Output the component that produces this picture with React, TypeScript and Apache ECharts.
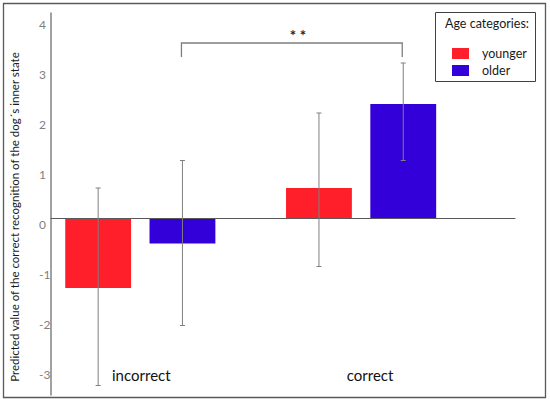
import React, { useEffect, useRef } from 'react';
import * as echarts from 'echarts';

const categories = ['incorrect', 'correct'];
const seriesNames = ['younger', 'older'];
const seriesColors = ['#FF1F2A', '#3300DA'];
const youngerValues = [-1.4, 0.6];
const olderValues = [-0.51, 2.28];
const youngerErrLow = [-3.35, -0.97];
const youngerErrHigh = [0.6, 2.1];
const olderErrLow = [-2.15, 1.15];
const olderErrHigh = [1.15, 3.1];
const yTickValues = [-3, -2, -1, 0, 1, 2, 3, 4];
const yAxisTitle = 'Predicted value of the correct recognition of the dog´s inner state';
const legendTitle = 'Age categories:';
// significance bracket: [fromCategory, toCategory, bracketY, dropY]
const sigBracket = [0, 1, 3.5, 3.22];
const sigLabel = '* *';

const FONT = 'Lato';
const Y_MIN = -3.54;
const Y_MAX = 4.1;
const BAR_CAT_GAP = 0.32;
const BAR_GAP = 0.28;

export default function App() {
  const ref = useRef<HTMLDivElement>(null);
  useEffect(() => {
    if (!ref.current) return;
    const chart = echarts.init(ref.current, undefined, { renderer: 'svg' });

    const barOffset = (api: any, si: number) => {
      const band = api.size([1, 0])[0];
      const bw = (band * (1 - BAR_CAT_GAP)) / (2 + BAR_GAP);
      return (si === 0 ? -1 : 1) * (bw * (1 + BAR_GAP)) / 2;
    };

    const errData: number[][] = [];
    categories.forEach((_, i) => {
      errData.push([i, youngerErrLow[i], youngerErrHigh[i], 0]);
      errData.push([i, olderErrLow[i], olderErrHigh[i], 1]);
    });

    const option: any = {
      animation: false,
      textStyle: { fontFamily: FONT },
      grid: [
        { left: 47, right: 35, top: 13, bottom: 12 },
        { left: 29.9, right: 78.5, top: 13, bottom: 12 },
      ],
      xAxis: [
        {
          gridIndex: 0,
          type: 'category',
          data: [''],
          axisLine: { onZero: true, lineStyle: { color: '#595959', width: 1.2 } },
          axisTick: { show: false },
          axisLabel: { show: false },
          z: 5,
        },
        {
          gridIndex: 1,
          type: 'category',
          data: categories,
          position: 'bottom',
          axisLine: { show: false, onZero: false },
          axisTick: { show: false },
          axisLabel: {
            margin: -28,
            fontSize: 15,
            color: '#111',
            fontFamily: FONT,
            formatter: (v: string) => (v === 'correct' ? '{b|' + v + '}' : '{a|' + v + '}'),
            rich: {
              a: { fontSize: 15, color: '#111', fontFamily: FONT, padding: [0, 0, 0, 2] },
              b: { fontSize: 15, color: '#111', fontFamily: FONT, padding: [0, 0, 0, 18] },
            },
          },
        },
      ],
      yAxis: [
        {
          gridIndex: 0,
          type: 'value',
          min: Y_MIN,
          max: Y_MAX,
          axisLine: { show: true, lineStyle: { color: '#8a8a8a', width: 1.6 } },
          axisTick: { show: false },
          splitLine: { show: false },
          axisLabel: {
            customValues: yTickValues,
            align: 'left',
            verticalAlign: 'top',
            margin: 12,
            fontSize: 12,
            color: '#7f7f7f',
            fontFamily: FONT,
          },
          name: yAxisTitle,
          nameLocation: 'middle',
          nameRotate: 90,
          nameGap: 31,
          nameTextStyle: { fontSize: 11.5, color: '#1a1a1a', fontFamily: FONT, padding: [0, 26, 0, 0] },
        },
        {
          gridIndex: 1,
          type: 'value',
          min: Y_MIN,
          max: Y_MAX,
          show: false,
        },
      ],
      legend: {
        data: seriesNames,
        orient: 'vertical',
        left: 447,
        top: 42,
        icon: 'rect',
        itemWidth: 17,
        itemHeight: 11,
        itemGap: 4,
        textStyle: { fontSize: 12.5, color: '#1a1a1a', fontFamily: FONT, padding: [0, 0, 0, 8] },
      },
      graphic: [
        {
          type: 'rect',
          shape: { x: 3.5, y: 3.5, width: 542, height: 394 },
          style: { fill: 'none', stroke: '#595959', lineWidth: 1.3 },
          silent: true,
        },
        {
          type: 'rect',
          shape: { x: 435.5, y: 12.5, width: 100, height: 69 },
          style: { fill: '#fff', stroke: '#404040', lineWidth: 1 },
          silent: true,
          z: -1,
        },
        {
          type: 'text',
          x: 445,
          y: 23.5,
          style: {
            text: legendTitle,
            fontSize: 12.5,
            fontFamily: FONT,
            fill: '#1a1a1a',
            verticalAlign: 'middle',
          },
          silent: true,
        },
      ],
      series: [
        {
          name: seriesNames[0],
          type: 'bar',
          xAxisIndex: 1,
          yAxisIndex: 1,
          data: youngerValues,
          barCategoryGap: BAR_CAT_GAP * 100 + '%',
          barGap: BAR_GAP * 100 + '%',
          itemStyle: { color: seriesColors[0] },
        },
        {
          name: seriesNames[1],
          type: 'bar',
          xAxisIndex: 1,
          yAxisIndex: 1,
          data: olderValues,
          barCategoryGap: BAR_CAT_GAP * 100 + '%',
          barGap: BAR_GAP * 100 + '%',
          itemStyle: { color: seriesColors[1] },
        },
        {
          type: 'custom',
          xAxisIndex: 1,
          yAxisIndex: 1,
          data: errData,
          z: 10,
          silent: true,
          renderItem: (params: any, api: any) => {
            const ci = api.value(0);
            const lo = api.value(1);
            const hi = api.value(2);
            const si = api.value(3);
            const pLo = api.coord([ci, lo]);
            const pHi = api.coord([ci, hi]);
            const x = pLo[0] + barOffset(api, si);
            const cap = 2.5;
            const st = { stroke: '#7f7f7f', lineWidth: 1 };
            return {
              type: 'group',
              children: [
                { type: 'line', shape: { x1: x, y1: pHi[1], x2: x, y2: pLo[1] }, style: st },
                { type: 'line', shape: { x1: x - cap, y1: pHi[1], x2: x + cap, y2: pHi[1] }, style: st },
                { type: 'line', shape: { x1: x - cap, y1: pLo[1], x2: x + cap, y2: pLo[1] }, style: st },
              ],
            };
          },
        },
        {
          type: 'custom',
          xAxisIndex: 1,
          yAxisIndex: 1,
          data: [sigBracket],
          z: 10,
          silent: true,
          renderItem: (params: any, api: any) => {
            const c0 = api.value(0);
            const c1 = api.value(1);
            const yb = api.value(2);
            const yd = api.value(3);
            const a = api.coord([c0, yb]);
            const b = api.coord([c1, yb]);
            const d = api.coord([c0, yd]);
            const x0 = a[0] + barOffset(api, 1) - 1;
            const x1 = b[0] + barOffset(api, 1) - 1;
            return {
              type: 'group',
              children: [
                {
                  type: 'polyline',
                  shape: { points: [[x0, d[1]], [x0, a[1]], [x1, a[1]], [x1, d[1]]] },
                  style: { stroke: '#7f7f7f', lineWidth: 1.3, fill: 'none' },
                },
                {
                  type: 'text',
                  x: (x0 + x1) / 2 + 6,
                  y: a[1] - 8,
                  style: {
                    text: sigLabel,
                    fontSize: 15,
                    fontWeight: 'bold',
                    fontFamily: FONT,
                    fill: '#222',
                    align: 'center',
                    verticalAlign: 'middle',
                  },
                },
              ],
            };
          },
        },
      ],
    };
    chart.setOption(option);
    return () => chart.dispose();
  }, []);
  return (
    <div
      ref={ref}
      style={{ position: 'fixed', left: 0, top: 0, width: 550, height: 407, background: '#fff' }}
    />
  );
}
